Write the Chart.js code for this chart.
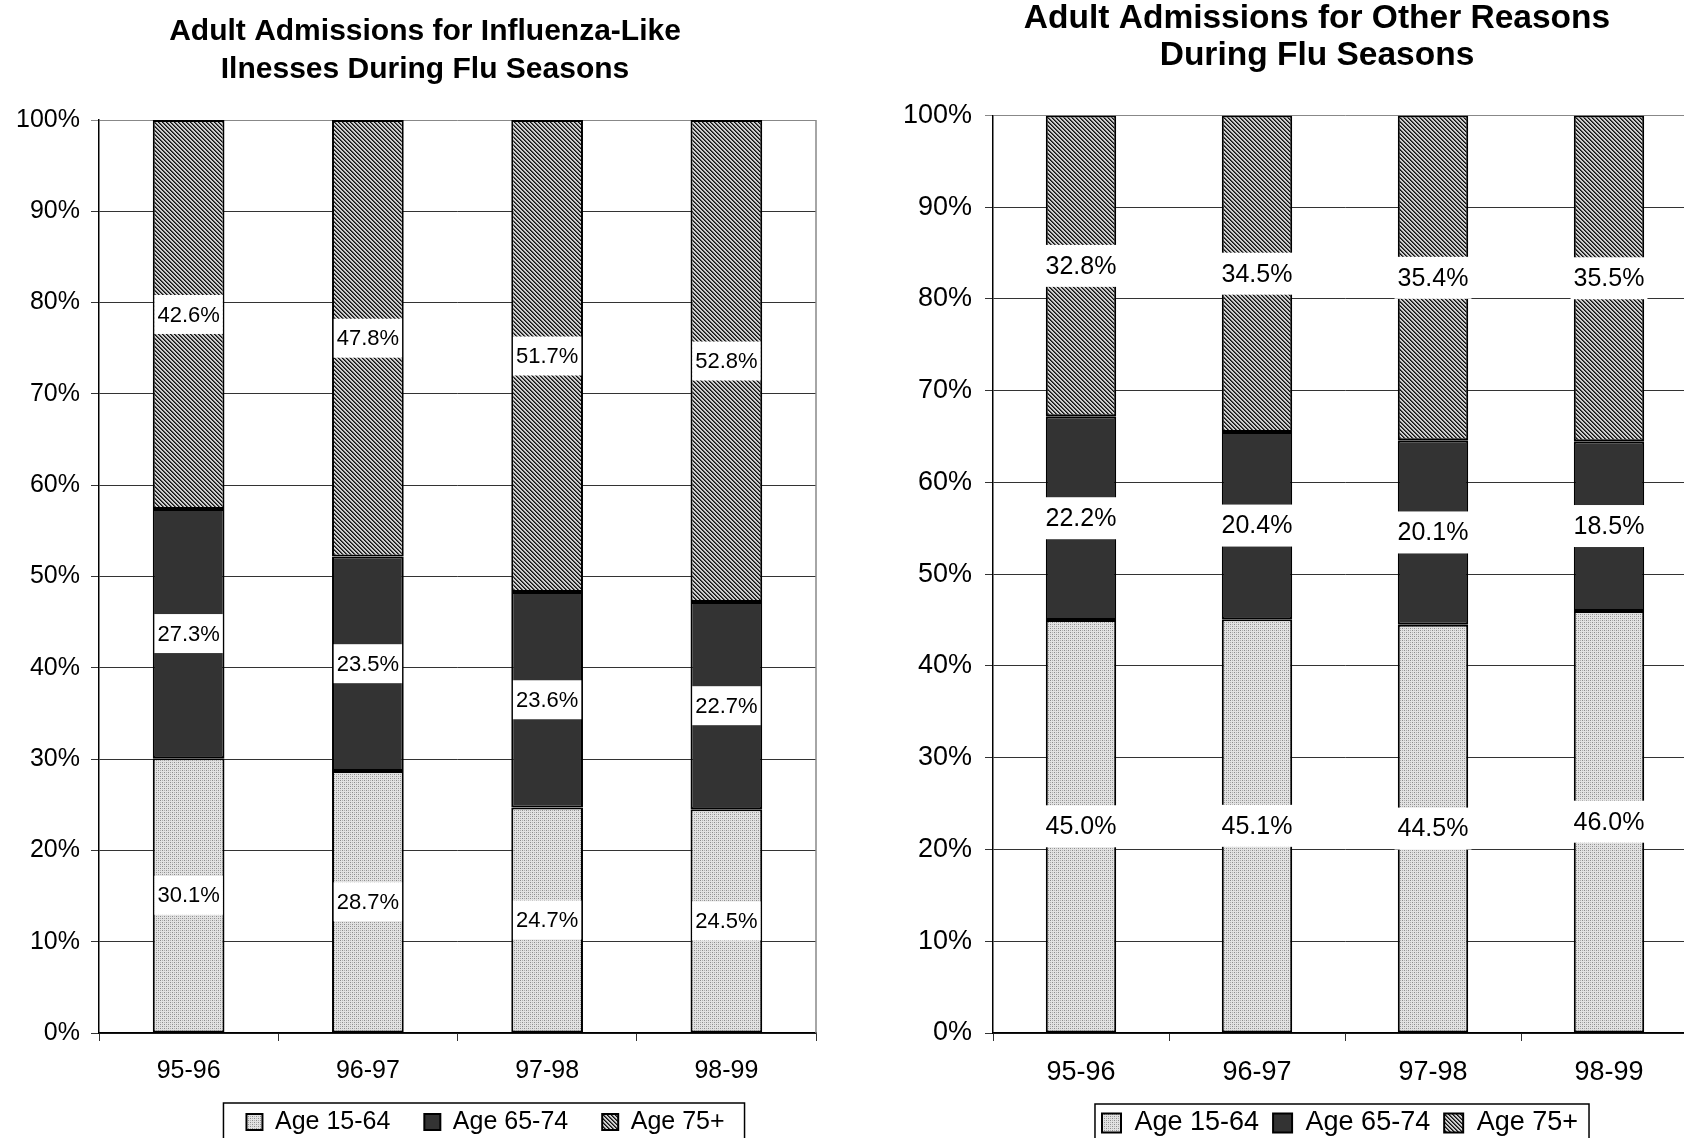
<!DOCTYPE html>
<html>
<head>
<meta charset="utf-8">
<script src="https://cdn.jsdelivr.net/npm/chart.js@4.4.0/dist/chart.umd.min.js"></script>
<style>
  html, body { margin: 0; padding: 0; background: #fff; overflow: hidden; }
  #wrap { position: relative; width: 1684px; height: 1138px; overflow: hidden; }
  canvas { position: absolute; top: 0; }
  #chart-ili { left: 0; }
  #chart-other { left: 850px; }
</style>
</head>
<body>
<div id="wrap">
  <canvas id="chart-ili" width="850" height="1200"></canvas>
  <canvas id="chart-other" width="934" height="1200"></canvas>
</div>
<script>
// --- DATA ---
const seasons = ['95-96', '96-97', '97-98', '98-99'];
const ageGroups = ['Age 15-64', 'Age 65-74', 'Age 75+'];

const iliAge1564 = [30.1, 28.7, 24.7, 24.5];
const iliAge6574 = [27.3, 23.5, 23.6, 22.7];
const iliAge75 = [42.6, 47.8, 51.7, 52.8];

const otherAge1564 = [45.0, 45.1, 44.5, 46.0];
const otherAge6574 = [22.2, 20.4, 20.1, 18.5];
const otherAge75 = [32.8, 34.5, 35.4, 35.5];

const iliTitle = ['Adult Admissions for Influenza-Like', 'Ilnesses During Flu Seasons'];
const otherTitle = ['Adult Admissions for Other Reasons', 'During Flu Seasons'];

const FONT = "'Liberation Sans', Arial, sans-serif";

// --- PATTERNS ---
function makePattern(ctx, size, paint) {
    const tile = document.createElement('canvas');
    tile.width = size;
    tile.height = size;
    paint(tile.getContext('2d'));
    return ctx.createPattern(tile, 'repeat');
}

function dotted(ctx) {
    return makePattern(ctx, 4, g => {
        g.fillStyle = '#e2e2e2'; g.fillRect(0, 0, 4, 4);
        g.fillStyle = '#8c8c8c'; g.fillRect(0, 0, 1, 1); g.fillRect(2, 2, 1, 1);
        g.fillStyle = '#b0b0b0'; g.fillRect(2, 0, 1, 1); g.fillRect(0, 2, 1, 1);
    });
}

function hatched(ctx) {
    return makePattern(ctx, 4, g => {
        g.fillStyle = '#cfcfcf'; g.fillRect(0, 0, 4, 4);
        for (let i = 0; i < 4; i++) {
            g.fillStyle = '#111'; g.fillRect(i, i, 1, 1);
            g.fillStyle = '#555'; g.fillRect((i + 1) % 4, i, 1, 1);
        }
    });
}

// --- PLUGINS ---
const segmentLabels = {
    id: 'segmentLabels',
    afterDatasetsDraw(chart, args, opts) {
        const ctx = chart.ctx;
        ctx.save();
        ctx.font = `${opts.size}px ${FONT}`;
        ctx.textAlign = 'center';
        ctx.textBaseline = 'middle';
        chart.data.datasets.forEach((ds, i) => {
            chart.getDatasetMeta(i).data.forEach((bar, j) => {
                const text = ds.data[j].toFixed(1) + '%';
                const cy = (bar.y + bar.base) / 2;
                const w = ctx.measureText(text).width + opts.padX * 2;
                ctx.fillStyle = '#fff';
                ctx.fillRect(bar.x - w / 2, cy - opts.boxH / 2, w, opts.boxH);
                ctx.fillStyle = '#000';
                ctx.fillText(text, bar.x, cy + 1);
            });
        });
        ctx.restore();
    }
};

// moves title/legend where the original had them, draws the frame pieces
const frame = {
    id: 'frame',
    afterLayout(chart, args, opts) {
        const t = chart.titleBlock;
        t.left += opts.titleShift;
        t.right += opts.titleShift;

        const lg = chart.legend;
        const lab = lg.options.labels;
        const h = lg.height;
        lg.left += opts.legendShift;
        lg.right += opts.legendShift;
        lg.top = opts.legendTextY - lab.padding - lab.font.size / 2;
        lg.bottom = lg.top + h;
    },
    afterDraw(chart, args, opts) {
        const { ctx, chartArea: a } = chart;
        ctx.save();
        ctx.strokeStyle = '#888';
        ctx.lineWidth = 1.5;
        ctx.beginPath();
        ctx.moveTo(a.right, a.top);
        ctx.lineTo(a.right, a.bottom);
        ctx.stroke();

        const boxes = chart.legend.legendHitBoxes;
        const l = Math.min(...boxes.map(b => b.left)) - opts.legendPadL;
        const r = Math.max(...boxes.map(b => b.left + b.width)) + opts.legendPadR;
        const cy = boxes[0].top + boxes[0].height / 2;
        ctx.strokeStyle = '#000';
        ctx.strokeRect(l, cy - opts.legendPadT, r - l, 90);
        ctx.restore();
    }
};

// --- CHART ---
function buildChart(id, values, title, cfg) {
    const canvas = document.getElementById(id);
    const ctx = canvas.getContext('2d');
    const fills = [dotted(ctx), '#333333', hatched(ctx)];

    return new Chart(ctx, {
        type: 'bar',
        data: {
            labels: seasons,
            datasets: ageGroups.map((name, i) => ({
                label: name,
                data: values[i],
                backgroundColor: fills[i],
                borderColor: '#000',
                borderWidth: 2,
                borderSkipped: false,
                barPercentage: 0.4,
                categoryPercentage: 1
            }))
        },
        options: {
            responsive: false,
            animation: false,
            events: [],
            layout: { padding: { left: 0, top: 0, right: cfg.padRight, bottom: cfg.padBottom } },
            scales: {
                x: {
                    stacked: true,
                    grid: { offset: true, drawOnChartArea: false, tickLength: 8, color: '#333', lineWidth: 1 },
                    border: { color: '#000', width: 1.5 },
                    ticks: { color: '#000', padding: 15, font: { size: cfg.tickSize, family: FONT } },
                    afterFit: s => { s.height = 75; }
                },
                y: {
                    stacked: true,
                    min: 0,
                    max: 100,
                    grid: {
                        color: c => (c.tick && c.tick.value === 100 ? '#888' : '#333'),
                        lineWidth: 1,
                        tickLength: 8
                    },
                    border: { color: '#000', width: 1.5 },
                    ticks: {
                        stepSize: 10,
                        color: '#000',
                        padding: cfg.yPad,
                        font: { size: cfg.tickSize, family: FONT },
                        callback: v => v + '%'
                    },
                    afterFit: s => { s.width = cfg.yWidth; }
                }
            },
            plugins: {
                title: {
                    display: true,
                    text: title,
                    color: '#000',
                    font: { size: cfg.titleSize, weight: 'bold', family: FONT, lineHeight: cfg.titleLine },
                    padding: { top: cfg.titleTop, bottom: cfg.titleBottom }
                },
                legend: {
                    position: 'bottom',
                    fullSize: false,
                    labels: {
                        color: '#000',
                        boxWidth: cfg.legendBox,
                        boxHeight: cfg.legendBox,
                        padding: cfg.legendGap,
                        font: { size: cfg.legendSize, family: FONT }
                    }
                },
                tooltip: { enabled: false },
                segmentLabels: { size: cfg.labelSize, padX: 3, boxH: cfg.labelBox },
                frame: {
                    titleShift: cfg.titleShift,
                    legendShift: cfg.legendShift,
                    legendTextY: cfg.legendTextY,
                    legendPadL: cfg.legendPadL,
                    legendPadR: cfg.legendPadR,
                    legendPadT: 19
                }
            }
        },
        plugins: [segmentLabels, frame]
    });
}

buildChart('chart-ili', [iliAge1564, iliAge6574, iliAge75], iliTitle, {
    padRight: 34, padBottom: 23, yWidth: 99, yPad: 11,
    tickSize: 25, titleSize: 30, titleLine: 1.27, titleTop: 13, titleBottom: 30.8, titleShift: 17,
    legendBox: 16, legendGap: 34, legendSize: 25, legendShift: 28, legendTextY: 1122,
    legendPadL: 23, legendPadR: 20,
    labelSize: 22, labelBox: 39
});

buildChart('chart-other', [otherAge1564, otherAge6574, otherAge75], otherTitle, {
    padRight: 87, padBottom: 41, yWidth: 143, yPad: 13,
    tickSize: 27, titleSize: 33.5, titleLine: 1.1, titleTop: 0, titleBottom: 41.7, titleShift: 43.5,
    legendBox: 19, legendGap: 14, legendSize: 27, legendShift: -5, legendTextY: 1123,
    legendPadL: 7, legendPadR: 11,
    labelSize: 25, labelBox: 42
});
</script>
</body>
</html>
